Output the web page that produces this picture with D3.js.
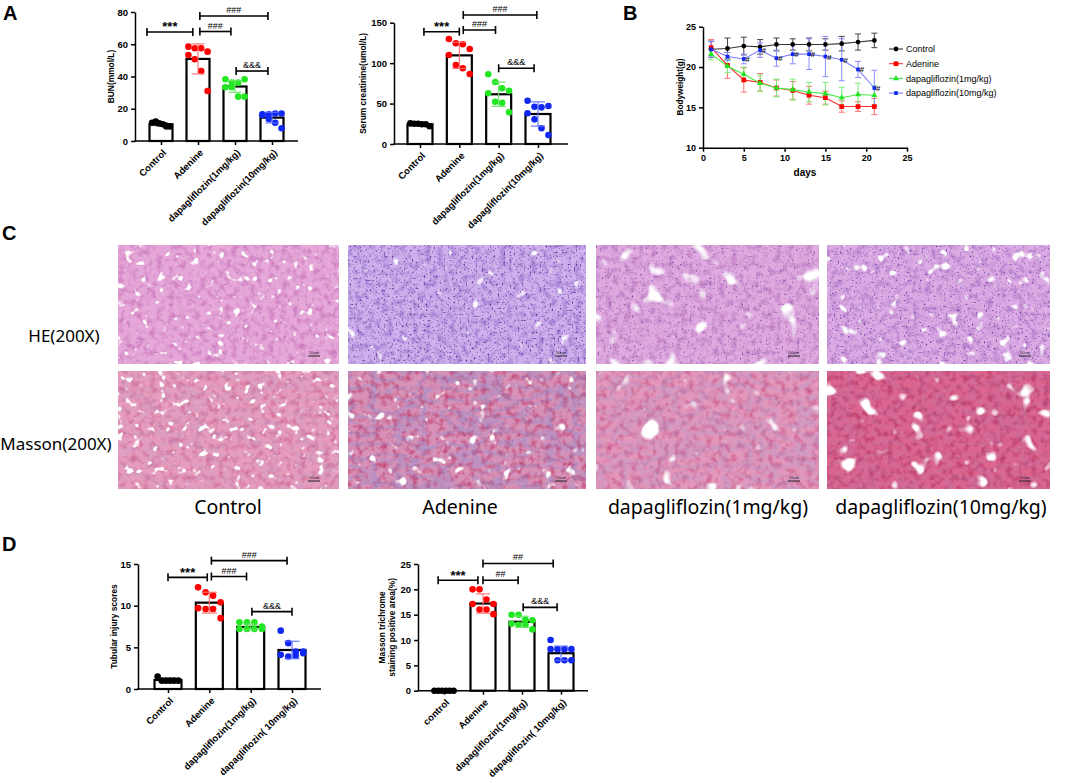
<!DOCTYPE html>
<html>
<head>
<meta charset="utf-8">
<script src="https://cdn.jsdelivr.net/npm/d3@7"></script>
<style>
  body { margin: 0; background: #fff; }
  svg { display: block; }
</style>
</head>
<body>
<script>
// ---- data ----
const groups   = ["Control", "Adenine", "dapagliflozin(1mg/kg)", "dapagliflozin(10mg/kg)"];
const groupsD1 = ["Control", "Adenine", "dapagliflozin(1mg/kg)", "dapagliflozin( 10mg/kg)"];
const groupsD2 = ["control", "Adenine", "dapagliflozin(1mg/kg)", "dapagliflozin( 10mg/kg)"];

// A: BUN
const bunPoints = [
  [11.3, 12.0, 10.9, 10.4, 9.0, 9.0],
  [58.5, 57.5, 57.5, 55.4, 53.3, 50.7, 43.4, 31.0],
  [38.3, 36.2, 36.2, 38.3, 33.3, 33.3, 27.5, 27.5],
  [16.5, 16.5, 17.1, 17.1, 16.2, 13.6, 11.3, 7.9]
];
const bunMean = [10.4, 50.9, 33.8, 14.5];
const bunSD = [0.9, 9.3, 3.6, 3.3];
const bunTicks = [0, 20, 40, 60, 80];
const bunSig = [[-0.38, 0.86, 67.6, "***"], [1.05, 1.89, 67.9, "###"], [1.05, 2.89, 77.5, "###"], [2.03, 2.89, 43.4, "&&&"]];

// A: serum creatinine
const scrPoints = [
  [25.5, 25.0, 25.0, 24.5, 24.5, 22.0],
  [129.8, 124.5, 123.3, 117.5, 110.0, 97.7, 93.6, 86.6],
  [86.2, 76.7, 68.9, 65.9, 62.7, 52.3, 51.1, 39.2],
  [53.5, 46.1, 45.3, 47.0, 38.0, 30.5, 19.4, 11.1]
];
const scrMean = [24.4, 109.6, 61.5, 37.1];
const scrSD = [1.2, 16.2, 15.0, 15.0];
const scrTicks = [0, 50, 100, 150];
const scrSig = [[0.1, 1.0, 138.9, "***"], [1.1, 1.92, 141, "###"], [1.1, 2.97, 159.5, "###"], [2.0, 2.9, 93.6, "&&&"]];

// B: body weight
const days = [1, 3, 5, 7, 9, 11, 13, 15, 17, 19, 21];
const bwSeries = ["Control", "Adenine", "dapagliflozin(1mg/kg)", "dapagliflozin(10mg/kg)"];
const bwControl   = [22.2, 22.3, 22.6, 22.5, 22.8, 22.8, 22.8, 22.8, 22.9, 23.1, 23.3];
const bwControlSD = [1.0, 1.3, 1.1, 0.9, 0.8, 0.7, 0.8, 0.7, 0.9, 1.0, 0.9];
const bwAdenine   = [22.4, 20.2, 18.4, 18.1, 17.4, 17.1, 16.5, 16.2, 15.1, 15.1, 15.1];
const bwAdenineSD = [1.0, 1.6, 1.5, 1.1, 1.0, 1.1, 1.1, 0.8, 0.7, 0.6, 1.0];
const bwDapa1     = [21.6, 20.1, 19.1, 18.0, 17.4, 17.2, 16.9, 16.7, 16.2, 16.6, 16.5];
const bwDapa1SD   = [0.7, 0.8, 0.9, 1.0, 1.1, 1.3, 1.2, 1.4, 1.3, 1.4, 1.2];
const bwDapa10    = [22.2, 21.3, 21.0, 22.1, 21.1, 21.6, 21.6, 21.3, 20.9, 19.7, 17.4];
const bwDapa10SD  = [1.0, 0.5, 0.6, 0.9, 1.0, 1.2, 1.9, 2.5, 2.6, 1.0, 2.2];
const bwHashDays  = [5, 7, 9, 11, 13, 15, 17, 19, 21];
const bwXTicks = [0, 5, 10, 15, 20, 25];
const bwYTicks = [10, 15, 20, 25];

// C: histology
const histoRows = ["HE(200X)", "Masson(200X)"];
const histoCols = ["Control", "Adenine", "dapagliflozin(1mg/kg)", "dapagliflozin(10mg/kg)"];

// D: tubular injury
const tubPoints = [
  [1.5, 1.0, 1.0, 1.0, 1.0, 1.0],
  [12.2, 11.6, 11.2, 10.4, 9.7, 9.6, 9.6, 8.5],
  [8.0, 8.0, 8.0, 7.5, 7.2, 7.2, 7.2, 7.2],
  [7.0, 5.5, 4.5, 4.3, 4.1, 3.9, 4.0, 4.5]
];
const tubMean = [1.08, 10.36, 7.45, 4.68];
const tubSD = [0.2, 1.25, 0.35, 1.05];
const tubTicks = [0, 5, 10, 15];
const tubSig = [[0, 0.95, 13.4, "***"], [1.05, 1.9, 13.5, "###"], [1.05, 2.88, 15.4, "###"], [2.03, 3.0, 9.28, "&&&"]];

// D: Masson positive area
const masPoints = [
  [0, 0, 0, 0, 0, 0],
  [20, 20, 18, 17.1, 17.1, 16, 16, 15.1],
  [15, 15, 14, 13.9, 13.2, 13, 13, 12.1],
  [10, 8.2, 8.2, 8.2, 8.2, 6, 6, 6]
];
const masMean = [0, 17.2, 13.6, 7.4];
const masSD = [0, 1.9, 1.1, 1.4];
const masTicks = [0, 5, 10, 15, 20, 25];
const masSig = [[-0.15, 0.87, 21.8, "***"], [1.0, 1.9, 21.8, "##"], [1.0, 2.8, 25.1, "##"], [2.03, 2.9, 16.45, "&&&"]];

// ---- styles ----
const dotColors = ["#000000", "#ff0000", "#22e622", "#1028f0"];
const errColors = ["#000000", "#ff6a6a", "#66e866", "#5a6cff"];
const lineColors = ["#333333", "#ff2a2a", "#44ee44", "#7a7aff"];
const lineErr = ["#444444", "#ff7070", "#77ee77", "#8a8aff"];

const svg = d3.select("body").append("svg")
  .attr("width", 1065).attr("height", 783)
  .style("font-family", "'Liberation Sans', Arial, sans-serif");
const defs = svg.append("defs");

function offsets(n, bw) {
  // spread dots across the bar
  if (n <= 6) return d3.range(n).map(i => (i - (n - 1) / 2) * bw / 6.5);
  return d3.range(n).map(i => ((i % 4) - 1.5) * bw / 3.6);
}

function barChart(cfg) {
  const g = svg.append("g");
  const y = d3.scaleLinear().domain(cfg.domain).range([cfg.y0, cfg.y1]);
  const x = d3.scalePoint().domain(cfg.cats).range([cfg.c0, cfg.c1]);
  const xi = d3.scaleLinear().domain([0, cfg.cats.length - 1]).range([cfg.c0, cfg.c1]);

  g.selectAll("rect.bar").data(cfg.mean).join("rect")
    .attr("x", (d, i) => x(cfg.cats[i]) - cfg.bw / 2)
    .attr("y", d => y(d))
    .attr("width", cfg.bw)
    .attr("height", d => y(0) - y(d))
    .attr("fill", "white").attr("stroke", "black").attr("stroke-width", 2.2);

  cfg.points.forEach((pts, i) => {
    const off = offsets(pts.length, cfg.bw);
    g.selectAll(null).data(pts).join("circle")
      .attr("cx", (d, j) => x(cfg.cats[i]) + off[j])
      .attr("cy", d => y(d))
      .attr("r", 3.3)
      .attr("fill", dotColors[i]);
  });

  cfg.mean.forEach((m, i) => {
    const cx = x(cfg.cats[i]), s = cfg.sd[i], cw = cfg.bw * 0.28;
    const eg = g.append("g").attr("stroke", errColors[i]).attr("stroke-width", 1.1);
    eg.append("line").attr("x1", cx).attr("x2", cx).attr("y1", y(m - s)).attr("y2", y(m + s));
    eg.append("line").attr("x1", cx - cw).attr("x2", cx + cw).attr("y1", y(m + s)).attr("y2", y(m + s));
    eg.append("line").attr("x1", cx - cw).attr("x2", cx + cw).attr("y1", y(m - s)).attr("y2", y(m - s));
  });

  // axes
  const ya = g.append("g").attr("transform", `translate(${cfg.ax},0)`)
    .call(d3.axisLeft(y).tickValues(cfg.ticks).tickSize(4).tickSizeOuter(0));
  ya.select(".domain").attr("stroke-width", 1.5);
  ya.selectAll(".tick line").attr("stroke-width", 1.5);
  ya.selectAll("text").style("font-size", "9.5px").style("font-weight", "bold").attr("font-family", null);

  g.append("line").attr("x1", cfg.ax - 0.75).attr("x2", cfg.xEnd).attr("y1", cfg.y0).attr("y2", cfg.y0)
    .attr("stroke", "black").attr("stroke-width", 1.5);
  const xa = g.append("g").attr("transform", `translate(0,${cfg.y0})`)
    .call(d3.axisBottom(x).tickSize(4).tickSizeOuter(0));
  xa.select(".domain").remove();
  xa.selectAll(".tick line").attr("stroke-width", 1.5);
  xa.selectAll("text")
    .attr("y", 0).attr("dy", "0.35em")
    .attr("transform", "translate(3,10) rotate(-45)")
    .style("text-anchor", "end")
    .style("font-size", "9.5px").style("font-weight", "bold").attr("font-family", null);

  // y title
  cfg.title.forEach((t, k) => {
    g.append("text")
      .attr("transform", `translate(${cfg.tx + k * 10},${(cfg.y0 + cfg.y1) / 2}) rotate(-90)`)
      .attr("text-anchor", "middle")
      .style("font-size", "8.4px").style("font-weight", "bold")
      .text(t);
  });

  // significance brackets
  cfg.sig.forEach(([a, b, v, lab]) => {
    const x1 = xi(a), x2 = xi(b), yy = y(v);
    const bg = g.append("g").attr("stroke", "black").attr("stroke-width", 1.6);
    bg.append("line").attr("x1", x1).attr("x2", x2).attr("y1", yy).attr("y2", yy);
    bg.append("line").attr("x1", x1).attr("x2", x1).attr("y1", yy - 4).attr("y2", yy + 4);
    bg.append("line").attr("x1", x2).attr("x2", x2).attr("y1", yy - 4).attr("y2", yy + 4);
    const star = lab === "***";
    g.append("text")
      .attr("x", (x1 + x2) / 2).attr("y", star ? yy - 0.5 : yy - 3)
      .attr("text-anchor", "middle")
      .style("font-size", star ? "13px" : "9px")
      .style("font-weight", star ? "bold" : "normal")
      .text(lab);
  });
}

// ---- panel A ----
barChart({ cats: groups, points: bunPoints, mean: bunMean, sd: bunSD, ticks: bunTicks, sig: bunSig,
  domain: [0, 80], y0: 141, y1: 12, c0: 161, c1: 272, bw: 23, ax: 135, xEnd: 298,
  title: ["BUN(mmol/L)"], tx: 114 });
barChart({ cats: groups, points: scrPoints, mean: scrMean, sd: scrSD, ticks: scrTicks, sig: scrSig,
  domain: [0, 150], y0: 144, y1: 22.7, c0: 420, c1: 538, bw: 25, ax: 394, xEnd: 568,
  title: ["Serum creatinine(umol/L)"], tx: 366 });

// ---- panel D ----
barChart({ cats: groupsD1, points: tubPoints, mean: tubMean, sd: tubSD, ticks: tubTicks, sig: tubSig,
  domain: [0, 15], y0: 689, y1: 564, c0: 168, c1: 292, bw: 27, ax: 138, xEnd: 321,
  title: ["Tubular injury scores"], tx: 117 });
barChart({ cats: groupsD2, points: masPoints, mean: masMean, sd: masSD, ticks: masTicks, sig: masSig,
  domain: [0, 25], y0: 690.7, y1: 564, c0: 444, c1: 561, bw: 25, ax: 418, xEnd: 588,
  title: ["Masson trichrome", "staining positive area(%)"], tx: 385 });

// ---- panel B ----
(function () {
  const g = svg.append("g");
  const x = d3.scaleLinear().domain([0, 25]).range([703, 907]);
  const y = d3.scaleLinear().domain([10, 25]).range([147.7, 26.7]);
  const vals = [bwControl, bwAdenine, bwDapa1, bwDapa10];
  const sds = [bwControlSD, bwAdenineSD, bwDapa1SD, bwDapa10SD];
  const shapes = [d3.symbolCircle, d3.symbolSquare, d3.symbolTriangle, d3.symbolSquare];
  const sizes = [18, 22, 16, 14];

  vals.forEach((v, s) => {
    const eg = g.append("g").attr("stroke", lineErr[s]).attr("stroke-width", 1);
    days.forEach((d, i) => {
      const cx = x(d), lo = y(v[i] - sds[s][i]), hi = y(v[i] + sds[s][i]);
      eg.append("line").attr("x1", cx).attr("x2", cx).attr("y1", lo).attr("y2", hi);
      eg.append("line").attr("x1", cx - 3).attr("x2", cx + 3).attr("y1", lo).attr("y2", lo);
      eg.append("line").attr("x1", cx - 3).attr("x2", cx + 3).attr("y1", hi).attr("y2", hi);
    });
  });
  vals.forEach((v, s) => {
    g.append("path").datum(v)
      .attr("d", d3.line().x((d, i) => x(days[i])).y(d => y(d)))
      .attr("fill", "none").attr("stroke", lineColors[s]).attr("stroke-width", 1.1);
    g.selectAll(null).data(v).join("path")
      .attr("transform", (d, i) => `translate(${x(days[i])},${y(d)})`)
      .attr("d", d3.symbol().type(shapes[s]).size(sizes[s]))
      .attr("fill", dotColors[s]);
  });
  bwHashDays.forEach(d => {
    const i = days.indexOf(d);
    g.append("text").attr("x", x(d) + 1.5).attr("y", y(bwDapa10[i]) + 3)
      .style("font-size", "8px").style("font-style", "italic").style("font-weight", "bold")
      .attr("fill", "#222").text("#");
  });

  const ya = g.append("g").attr("transform", "translate(703,0)")
    .call(d3.axisLeft(y).tickValues(bwYTicks).tickSize(4).tickSizeOuter(0));
  const xa = g.append("g").attr("transform", "translate(0,147.7)")
    .call(d3.axisBottom(x).tickValues(bwXTicks).tickSize(4).tickSizeOuter(0));
  [ya, xa].forEach(a => {
    a.select(".domain").attr("stroke-width", 1.5);
    a.selectAll(".tick line").attr("stroke-width", 1.5);
    a.selectAll("text").style("font-size", "9px").style("font-weight", "bold").attr("font-family", null);
  });
  g.append("text").attr("x", 805).attr("y", 176).attr("text-anchor", "middle")
    .style("font-size", "10px").style("font-weight", "bold").text("days");
  g.append("text").attr("transform", "translate(683,87) rotate(-90)").attr("text-anchor", "middle")
    .style("font-size", "8.2px").style("font-weight", "bold").text("Bodyweight(g)");

  // legend
  const lg = g.append("g");
  bwSeries.forEach((name, s) => {
    const ly = 49 + s * 14.7;
    lg.append("line").attr("x1", 889).attr("x2", 903).attr("y1", ly).attr("y2", ly)
      .attr("stroke", lineColors[s]).attr("stroke-width", 1.1);
    lg.append("path").attr("transform", `translate(896,${ly})`)
      .attr("d", d3.symbol().type(shapes[s]).size(sizes[s])).attr("fill", dotColors[s]);
    lg.append("text").attr("x", 906).attr("y", ly + 3.2).style("font-size", "9px").text(name);
  });
})();

// ---- panel C: histology stand-ins ----
const imgX = [118, 348, 596, 827];
const imgW = [221, 238, 223, 223];
const imgY = [245, 371];
const imgH = [119, 118];
const tex = [
  [ // HE
    { base: "#e6a8d8", dark: "#cc7cbe", lumF: 0.12, lumT: 0.66, nuc: "#7a4aa8", nucT: 0.70, fib: "#8a9ad8", fibA: 0 },
    { base: "#d0b0ec", dark: "#a27ed2", lumF: 0.07, lumT: 0.70, nuc: "#5a38a0", nucT: 0.60, fib: "#8a9ad8", fibA: 0 },
    { base: "#dfaadf", dark: "#bd7cc2", lumF: 0.045, lumT: 0.64, nuc: "#6a40a2", nucT: 0.65, fib: "#8a9ad8", fibA: 0 },
    { base: "#dcabe3", dark: "#b680cc", lumF: 0.08, lumT: 0.66, nuc: "#6038a4", nucT: 0.63, fib: "#8a9ad8", fibA: 0 }
  ],
  [ // Masson
    { base: "#e69dbd", dark: "#d0709a", lumF: 0.12, lumT: 0.64, nuc: "#9a4a8a", nucT: 0.76, fib: "#95a2dc", fibA: 0.18 },
    { base: "#d892b8", dark: "#c24a76", lumF: 0.09, lumT: 0.68, nuc: "#7a3a86", nucT: 0.74, fib: "#7a90d6", fibA: 0.42 },
    { base: "#e297bb", dark: "#cc6190", lumF: 0.05, lumT: 0.66, nuc: "#8a3a7a", nucT: 0.76, fib: "#97a2da", fibA: 0.3 },
    { base: "#da6690", dark: "#bc3c6b", lumF: 0.055, lumT: 0.64, nuc: "#8a2a5a", nucT: 0.76, fib: "#9498d4", fibA: 0.15 }
  ]
];

function texFilter(id, p, seed) {
  const f = defs.append("filter").attr("id", id)
    .attr("x", 0).attr("y", 0).attr("width", 1).attr("height", 1)
    .attr("color-interpolation-filters", "sRGB");
  const dk = d3.rgb(p.dark), nu = d3.rgb(p.nuc), fb = d3.rgb(p.fib);
  f.append("feFlood").attr("flood-color", p.base).attr("result", "bg");
  // darker mottling of tubules
  f.append("feTurbulence").attr("type", "fractalNoise").attr("baseFrequency", 0.16)
    .attr("numOctaves", 2).attr("seed", seed).attr("result", "t1");
  f.append("feColorMatrix").attr("in", "t1").attr("type", "matrix")
    .attr("values", `0 0 0 0 ${dk.r / 255} 0 0 0 0 ${dk.g / 255} 0 0 0 0 ${dk.b / 255} 2.4 0 0 0 -1.05`)
    .attr("result", "mott");
  // collagen fibres (blue)
  f.append("feTurbulence").attr("type", "turbulence").attr("baseFrequency", "0.04 0.09")
    .attr("numOctaves", 3).attr("seed", seed + 11).attr("result", "t2");
  f.append("feColorMatrix").attr("in", "t2").attr("type", "matrix")
    .attr("values", `0 0 0 0 ${fb.r / 255} 0 0 0 0 ${fb.g / 255} 0 0 0 0 ${fb.b / 255} 0 0 ${-3 * p.fibA} 0 ${1.1 * p.fibA}`)
    .attr("result", "fib");
  // nuclei
  f.append("feTurbulence").attr("type", "fractalNoise").attr("baseFrequency", 0.5)
    .attr("numOctaves", 1).attr("seed", seed + 23).attr("result", "t4");
  f.append("feColorMatrix").attr("in", "t4").attr("type", "matrix")
    .attr("values", `0 0 0 0 ${nu.r / 255} 0 0 0 0 ${nu.g / 255} 0 0 0 0 ${nu.b / 255} 5 0 0 0 ${-5 * p.nucT}`)
    .attr("result", "nuc");
  // lumens
  f.append("feTurbulence").attr("type", "fractalNoise").attr("baseFrequency", p.lumF)
    .attr("numOctaves", 2).attr("seed", seed + 37).attr("result", "t3");
  f.append("feColorMatrix").attr("in", "t3").attr("type", "matrix")
    .attr("values", `0 0 0 0 1 0 0 0 0 1 0 0 0 0 1 0 9 0 0 ${-9 * p.lumT}`)
    .attr("result", "lum");
  const m = f.append("feMerge");
  ["bg", "mott", "fib", "nuc", "lum"].forEach(r => m.append("feMergeNode").attr("in", r));
}

const cg = svg.append("g");
histoRows.forEach((row, r) => {
  histoCols.forEach((col, c) => {
    const id = `tex${r}${c}`;
    texFilter(id, tex[r][c], 3 + r * 50 + c * 7);
    cg.append("rect").attr("x", imgX[c]).attr("y", imgY[r]).attr("width", imgW[c]).attr("height", imgH[r])
      .attr("fill", tex[r][c].base).attr("filter", `url(#${id})`);
    const sx = imgX[c] + imgW[c] - 31, sy = imgY[r] + imgH[r] - 8;
    cg.append("line").attr("x1", sx).attr("x2", sx + 12).attr("y1", sy).attr("y2", sy)
      .attr("stroke", "#222").attr("stroke-width", 1);
    cg.append("text").attr("x", sx + 6).attr("y", sy - 2).attr("text-anchor", "middle")
      .style("font-size", "4px").attr("fill", "#222").text("50um");
  });
  cg.append("text").attr("x", r === 0 ? 64 : 56).attr("y", r === 0 ? 342 : 450)
    .attr("text-anchor", "middle")
    .style("font-family", "'Noto Sans', 'Open Sans', sans-serif").style("font-size", "17px")
    .text(row);
});
const labX = [228, 460, 708, 941];
histoCols.forEach((col, c) => {
  cg.append("text").attr("x", labX[c]).attr("y", 514).attr("text-anchor", "middle")
    .style("font-family", "'Noto Sans', 'Open Sans', sans-serif").style("font-size", "19.5px")
    .text(col);
});

// ---- panel letters ----
[["A", 3, 20], ["B", 623, 20], ["C", 2, 240], ["D", 2, 551]].forEach(([t, lx, ly]) => {
  svg.append("text").attr("x", lx).attr("y", ly)
    .style("font-size", "20px").style("font-weight", "bold").text(t);
});
</script>
</body>
</html>
